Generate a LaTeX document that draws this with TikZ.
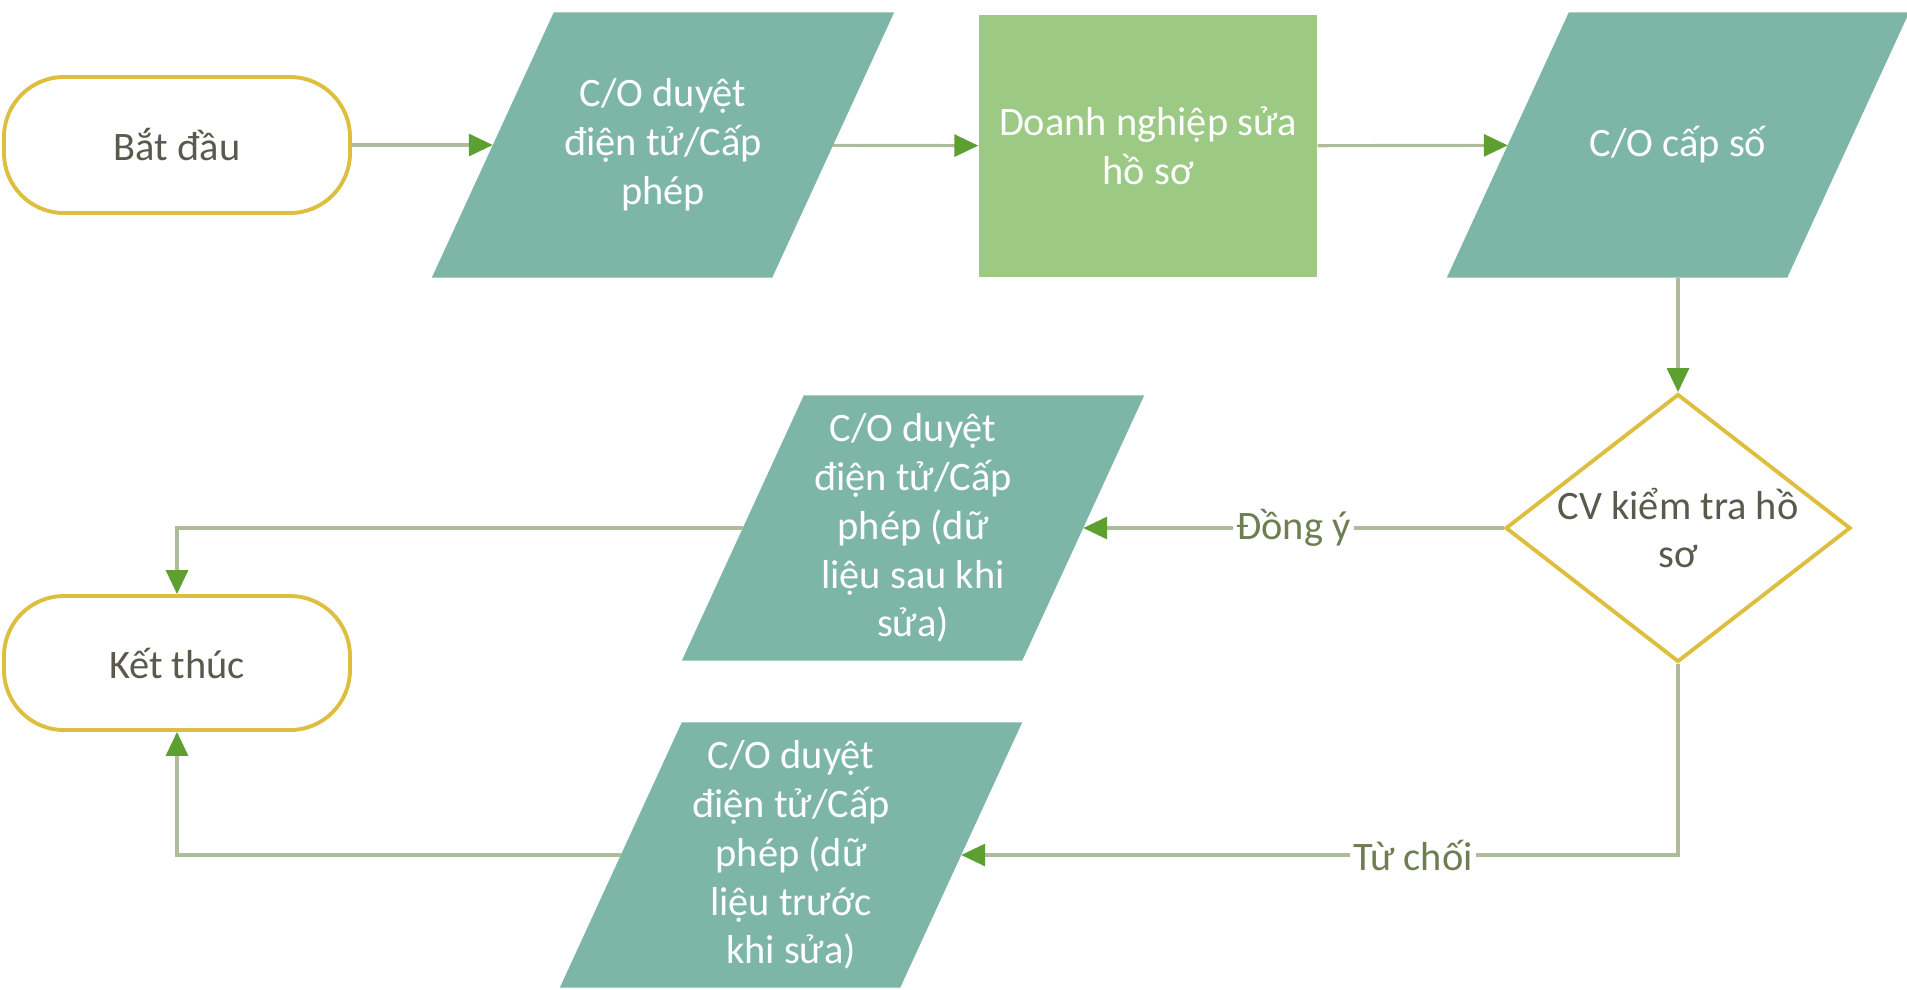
\documentclass[tikz,border=0pt]{standalone}
\usepackage{fontspec}
\setmainfont{Carlito}
\usetikzlibrary{shapes.geometric,arrows.meta,backgrounds}

\definecolor{coteal}{HTML}{7DB6A7}
\definecolor{fixgreen}{HTML}{9CC983}
\definecolor{termgold}{HTML}{DDBE3E}
\definecolor{linegray}{HTML}{AEBC9C}
\definecolor{tipgreen}{HTML}{5E9F32}
\definecolor{lblgreen}{HTML}{6E7E52}
\definecolor{txtgray}{HTML}{5A5A4C}

\begin{document}
\begin{tikzpicture}[x=0.1mm,y=-0.1mm,
        every node/.style={font=\fontsize{11.5}{13.9}\selectfont},
        term/.style={draw=termgold, line width=1.1pt, fill=white, rounded corners=6mm,
            minimum width=34.6mm, minimum height=13.6mm, text=txtgray},
        para/.style={text=white, align=center, minimum width=33.9mm,
            minimum height=26.4mm, inner sep=1pt},
        flow/.style={draw=linegray, line width=0.9pt,
            -{Triangle[length=2.4mm,width=2.2mm,color=tipgreen]}},
        lbl/.style={fill=white, text=lblgreen, inner sep=1pt}]

        \useasboundingbox (0,0) rectangle (1907,989);
        \clip (0,0) rectangle (1907,989);

        \node[term] (start) at (177,145) {Bắt đầu};
        \node[para] (co1) at (663,145) {C/O duyệt\\điện tử/Cấp\\phép};
        \node[fill=fixgreen, text=white, align=center, minimum width=33.8mm,
            minimum height=26.2mm, text depth=0pt] (fix) at (1148,146)
            {Doanh nghiệp sửa\\hồ sơ};
        \node[para] (cap) at (1678,145) {C/O cấp số};

        \node[diamond, aspect=1.29, draw=termgold, line width=1.1pt, fill=white,
            text=txtgray, align=center, inner sep=0pt, minimum width=34.5mm,
            minimum height=26.8mm] (check) at (1678,528) {CV kiểm tra hồ\\sơ};

        \node[para] (after) at (913,528)
            {C/O duyệt\\điện tử/Cấp\\phép (dữ\\liệu sau khi\\sửa)};
        \node[para] (before) at (791,855)
            {C/O duyệt\\điện tử/Cấp\\phép (dữ\\liệu trước\\khi sửa)};

        \node[term, minimum height=13.4mm] (end) at (177,663) {Kết thúc};

        % slanted boxes behind the text
        \begin{scope}[on background layer]
            \clip (0,0) rectangle (1907,989);
            \foreach \n in {co1,cap,after,before}
                \fill[coteal] ([xshift=-6.1mm]\n.south west) -- ([xshift=6.1mm]\n.north west)
                    -- ([xshift=6.1mm]\n.north east) -- ([xshift=-6.1mm]\n.south east) -- cycle;
        \end{scope}

        \draw[flow] (start) -- (co1);
        \draw[flow] (co1) -- (fix);
        \draw[flow] (fix) -- (cap);
        \draw[flow] (cap) -- (check);
        \draw[flow] (check) -- node[lbl] {Đồng ý} (after);
        \draw[flow] (after) -| (end);
        \draw[flow] (check) |- node[lbl, pos=0.685] {Từ chối} (before);
        \draw[flow] (before) -| (end);

\end{tikzpicture}
\end{document}
